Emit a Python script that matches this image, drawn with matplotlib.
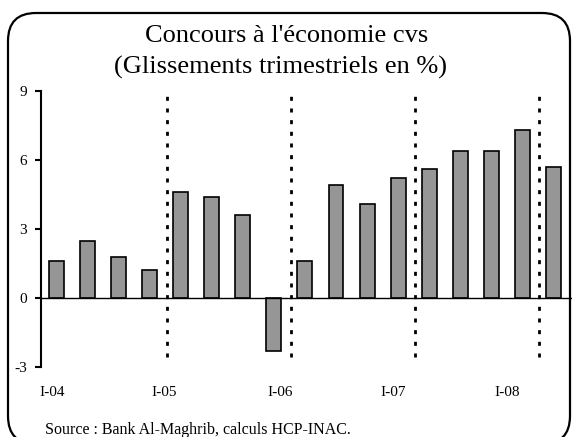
import matplotlib
matplotlib.use("Agg")
import matplotlib.pyplot as plt
from matplotlib.patches import FancyBboxPatch
from matplotlib.transforms import IdentityTransform

values = [1.6, 2.5, 1.8, 1.2, 4.6, 4.4, 3.6, -2.3, 1.6, 4.9, 4.1, 5.2, 5.6, 6.4, 6.4, 7.3, 5.7]
year_labels = ["I-04", "I-05", "I-06", "I-07", "I-08"]
label_pos = [-0.15, 3.45, 7.19, 10.85, 14.52]
separators = [3.55, 7.55, 11.55, 15.55]
yticks = [-3, 0, 3, 6, 9]

plt.rcParams['font.family'] = ['Liberation Serif', 'DejaVu Serif']

W, H = 572, 437
fig = plt.figure(figsize=(W / 100, H / 100), dpi=100)
fig.patch.set_facecolor('white')

ax = fig.add_axes([41 / W, (H - 367) / H, (572 - 41) / W, (367 - 91) / H])
x = list(range(len(values)))
ax.bar(x, values, width=0.48, color='#969696', edgecolor='black', linewidth=1.2, zorder=3)
ax.axhline(0, color='black', linewidth=1.0, zorder=4)
ax.vlines(separators, -2.55, 9, colors='black', linewidth=2.0,
          linestyles=(0, (1.45, 2.75)), zorder=2)

ax.set_xlim(-0.5, 16.6)
ax.set_ylim(-3, 9)
ax.set_yticks(yticks)
ax.set_yticklabels([str(v) for v in yticks], fontsize=11)
ax.tick_params(axis='y', direction='out', length=4, width=1.5, pad=6)
ax.set_xticks(label_pos)
ax.set_xticklabels(year_labels, fontsize=11)
ax.tick_params(axis='x', length=0, pad=14)
for s in ['top', 'right', 'bottom']:
    ax.spines[s].set_visible(False)
ax.spines['left'].set_linewidth(1.5)
ax.patch.set_alpha(0)

fig.text(287 / W, 1 - 36 / H, "Concours à l'économie cvs", ha='center', va='center', fontsize=19)
fig.text(281 / W, 1 - 67 / H, "(Glissements trimestriels en %)", ha='center', va='center', fontsize=19)
fig.text(45 / W, 1 - 430 / H, "Source : Bank Al-Maghrib, calculs HCP-INAC.", ha='left', va='center', fontsize=11.5)

box = FancyBboxPatch((8, H - 444), 562, 431, boxstyle="round,pad=0,rounding_size=28",
                     transform=IdentityTransform(), facecolor='none', edgecolor='black',
                     linewidth=1.6, clip_on=False)
fig.patches.append(box)

fig.savefig("out.png", dpi=100)
